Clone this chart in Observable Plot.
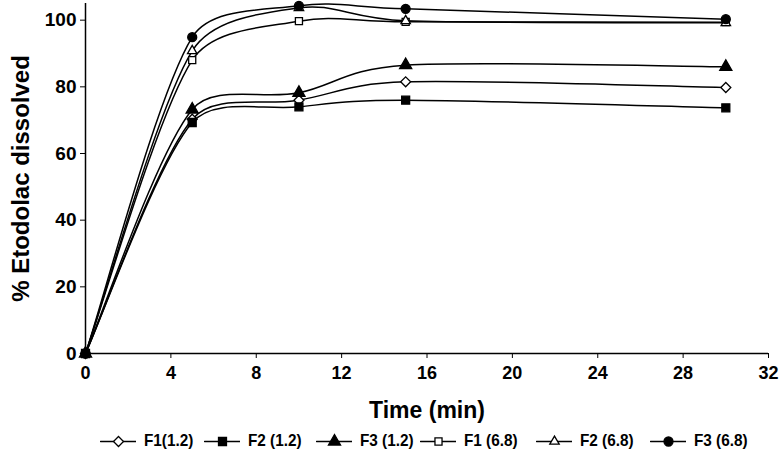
<!DOCTYPE html>
<html>
<head>
<meta charset="utf-8">
<script src="https://cdn.jsdelivr.net/npm/d3@7"></script>
<script src="https://cdn.jsdelivr.net/npm/@observablehq/plot@0.6"></script>
<style>
  html, body { margin: 0; padding: 0; background: #fff; }
  #wrap { position: relative; width: 780px; height: 465px; }
  #legend { position: absolute; left: 0; top: 430px; width: 780px; height: 22px; font-family: "Liberation Sans", Arial, sans-serif; font-weight: bold; font-size: 17px; }
  #legend .item { position: absolute; top: 0; height: 22px; display: flex; align-items: center; }
  #legend svg { display: block; }
  #legend span { margin-left: 8px; white-space: nowrap; display: inline-block; transform: scaleX(0.9); transform-origin: left center; }
</style>
</head>
<body>
<div id="wrap"><div id="chart"></div><div id="legend"></div></div>
<script>
const time = [0, 5, 10, 15, 30];
const seriesNames = ["F1(1.2)", "F2 (1.2)", "F3 (1.2)", "F1 (6.8)", "F2 (6.8)", "F3 (6.8)"];
const f1_12 = [0, 70.3, 76, 81.5, 79.8];
const f2_12 = [0, 69.3, 74, 76, 73.7];
const f3_12 = [0, 73.2, 78.2, 86.5, 86];
const f1_68 = [0, 88, 99.7, 99.5, 99.4];
const f2_68 = [0, 90.8, 103.7, 99.8, 99.2];
const f3_68 = [0, 94.9, 104.3, 103.4, 100.3];
const xTicks = [0, 4, 8, 12, 16, 20, 24, 28, 32];
const yTicks = [0, 20, 40, 60, 80, 100];

const symbols = ["diamond2", "square", "triangle", "square2", "triangle2", "circle"];
const fills = ["white", "black", "black", "white", "white", "black"];
const allValues = [f1_12, f2_12, f3_12, f1_68, f2_68, f3_68];
const legendLeft = [100, 204, 316, 420, 536, 650];

const rows = [];
seriesNames.forEach((name, i) => {
  time.forEach((t, j) => rows.push({series: name, idx: i, time: t, value: allValues[i][j]}));
});

// Spreadsheet-style smoothed line: Bezier with tangent (P[i+1]-P[i-1])/6,
// control arms capped at half the segment length (distances measured with y stretched).
function smoothCurve(context) {
  let pts = [];
  const K = 2;
  return {
    areaStart() {}, areaEnd() {},
    lineStart() { pts = []; },
    point(x, y) { pts.push([+x, +y]); },
    lineEnd() {
      const n = pts.length;
      if (!n) return;
      context.moveTo(pts[0][0], pts[0][1]);
      const dist = (a, b) => Math.hypot(a[0] - b[0], K * (a[1] - b[1]));
      for (let i = 0; i < n - 1; i++) {
        const p0 = pts[i - 1] || pts[i], p1 = pts[i], p2 = pts[i + 1], p3 = pts[i + 2] || pts[i + 1];
        const d12 = dist(p1, p2);
        let f1 = 1 / 6, f2 = 1 / 6;
        const d02 = dist(p0, p2), d13 = dist(p1, p3);
        if (d02 * f1 > d12 / 2) f1 = (d12 / 2) / d02;
        if (d13 * f2 > d12 / 2) f2 = (d12 / 2) / d13;
        const c1 = [p1[0] + (p2[0] - p0[0]) * f1, p1[1] + (p2[1] - p0[1]) * f1];
        const c2 = [p2[0] - (p3[0] - p1[0]) * f2, p2[1] - (p3[1] - p1[1]) * f2];
        context.bezierCurveTo(c1[0], c1[1], c2[0], c2[1], p2[0], p2[1]);
      }
    }
  };
}

const font = "Liberation Sans, Arial, sans-serif";
const marks = [
  Plot.ruleX([0], {stroke: "black", strokeWidth: 1.5}),
  Plot.ruleY([0], {stroke: "black", strokeWidth: 1.5}),
  Plot.axisY({ticks: yTicks, tickSize: 5, tickPadding: 4, fontSize: 19, fontWeight: "bold", fontFamily: font, label: null}),
  Plot.axisX({ticks: xTicks, tickSize: 5, tickPadding: 8, fontSize: 18, fontWeight: "bold", fontFamily: font, label: null}),
  Plot.text(["Time (min)"], {frameAnchor: "bottom", lineAnchor: "middle", textAnchor: "middle", dy: 57, fontSize: 23, fontWeight: "bold", fontFamily: font, letterSpacing: 1.5}),
  Plot.text(["% Etodolac dissolved"], {frameAnchor: "left", lineAnchor: "middle", textAnchor: "middle", dx: -64, rotate: -90, fontSize: 24, fontWeight: "bold", fontFamily: font})
];
seriesNames.forEach((name, i) => {
  const data = rows.filter(d => d.idx === i);
  marks.push(Plot.line(data, {x: "time", y: "value", curve: smoothCurve, stroke: "black", strokeWidth: 1.5}));
});
seriesNames.forEach((name, i) => {
  const data = rows.filter(d => d.idx === i);
  marks.push(Plot.dot(data, {x: "time", y: "value", symbol: () => symbols[i], r: 4.5, fill: fills[i], stroke: "black", strokeWidth: 1.3}));
});

const chart = Plot.plot({
  width: 780,
  height: 425,
  marginLeft: 85,
  marginRight: 12,
  marginTop: 3,
  marginBottom: 72,
  x: {domain: [0, 32]},
  y: {domain: [0, 105]},
  symbol: {type: "identity"},
  style: {background: "white", color: "black", overflow: "visible"},
  marks
});
document.getElementById("chart").appendChild(chart);

// legend
const legend = document.getElementById("legend");
seriesNames.forEach((name, i) => {
  const item = document.createElement("div");
  item.className = "item";
  item.style.left = legendLeft[i] + "px";
  const sw = Plot.plot({
    width: 36, height: 20, margin: 0,
    x: {domain: [0, 1], axis: null}, y: {domain: [0, 1], axis: null},
    symbol: {type: "identity"},
    marks: [
      Plot.line([[0, 0.5], [1, 0.5]], {stroke: "black", strokeWidth: 1.5}),
      Plot.dot([[0.5, 0.5]], {symbol: () => symbols[i], r: 4.5, fill: fills[i], stroke: "black", strokeWidth: 1.3})
    ]
  });
  item.appendChild(sw);
  const t = document.createElement("span");
  t.textContent = name;
  item.appendChild(t);
  legend.appendChild(item);
});
</script>
</body>
</html>
